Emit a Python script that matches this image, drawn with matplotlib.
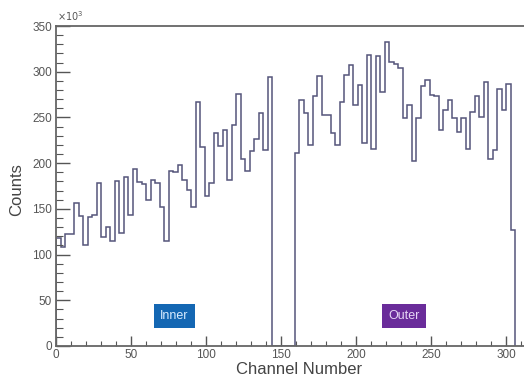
import numpy as np
import matplotlib.pyplot as plt
from matplotlib.ticker import MultipleLocator

plt.rcParams['font.family'] = ['Liberation Sans', 'DejaVu Sans']

# counts per 3-channel bin, in units of 10^3
bin_width = 3
inner_counts = [118, 108, 123, 123, 156, 142, 111, 141, 143, 178, 119, 130,
                115, 180, 124, 185, 143, 194, 179, 177, 160, 182, 178, 152,
                115, 191, 190, 198, 182, 171, 152, 267, 218, 164, 178, 233,
                219, 236, 182, 242, 276, 205, 191, 213, 226, 255, 214, 294]
gap_counts = [0, 0, 0, 0, 0]
outer_counts = [211, 269, 255, 220, 273, 295, 253, 253, 233, 220, 267, 296,
                307, 264, 286, 222, 318, 216, 317, 278, 333, 311, 309, 304,
                249, 264, 202, 249, 284, 291, 275, 273, 236, 258, 269, 249,
                234, 249, 216, 256, 273, 251, 289, 204, 214, 281, 258, 287,
                127]

counts = np.concatenate([inner_counts, gap_counts, outer_counts])
edges = np.arange(len(counts) + 1) * bin_width

fig = plt.figure(figsize=(5.24, 3.80), dpi=100)
ax = fig.add_axes([0.107, 0.0895, 0.893, 0.842])

ax.stairs(counts, edges, baseline=0, color='#55557a', linewidth=1.1)

ax.set_xlim(0, 312)
ax.set_ylim(0, 350)

ax.xaxis.set_major_locator(MultipleLocator(50))
ax.xaxis.set_minor_locator(MultipleLocator(10))
ax.yaxis.set_major_locator(MultipleLocator(50))
ax.yaxis.set_minor_locator(MultipleLocator(10))

ax.tick_params(axis='y', which='major', direction='in', length=10, width=1,
               color='#555555', labelsize=8.5, labelcolor='#555555', pad=3)
ax.tick_params(axis='y', which='minor', direction='in', length=5, width=0.8,
               color='#555555')
ax.tick_params(axis='x', which='major', direction='in', length=7, width=1,
               color='#555555', labelsize=8.5, labelcolor='#555555', pad=2)
ax.tick_params(axis='x', which='minor', direction='in', length=3.5, width=0.8,
               color='#555555')

for side in ['left', 'bottom', 'top']:
    ax.spines[side].set_color('#666666')
    ax.spines[side].set_linewidth(1.3)
ax.spines['right'].set_visible(False)

ax.set_xlabel('Channel Number', fontsize=12, color='#444444')
ax.xaxis.set_label_coords(0.52, -0.05)
ax.set_ylabel('Counts', fontsize=12, color='#444444')
ax.yaxis.set_label_coords(-0.068, 0.49)

fig.text(0.108, 0.945, r'$\times10^{3}$', fontsize=7, color='#555555')

ax.text(79, 33, 'Inner', fontsize=9, color='#d8ecff', ha='center', va='center',
        bbox=dict(boxstyle='square,pad=0.5', facecolor='#1467b3', edgecolor='none'))
ax.text(232, 33, 'Outer', fontsize=9, color='#e6d6f5', ha='center', va='center',
        bbox=dict(boxstyle='square,pad=0.5', facecolor='#6a2c9a', edgecolor='none'))

fig.savefig('out.png', dpi=100)
